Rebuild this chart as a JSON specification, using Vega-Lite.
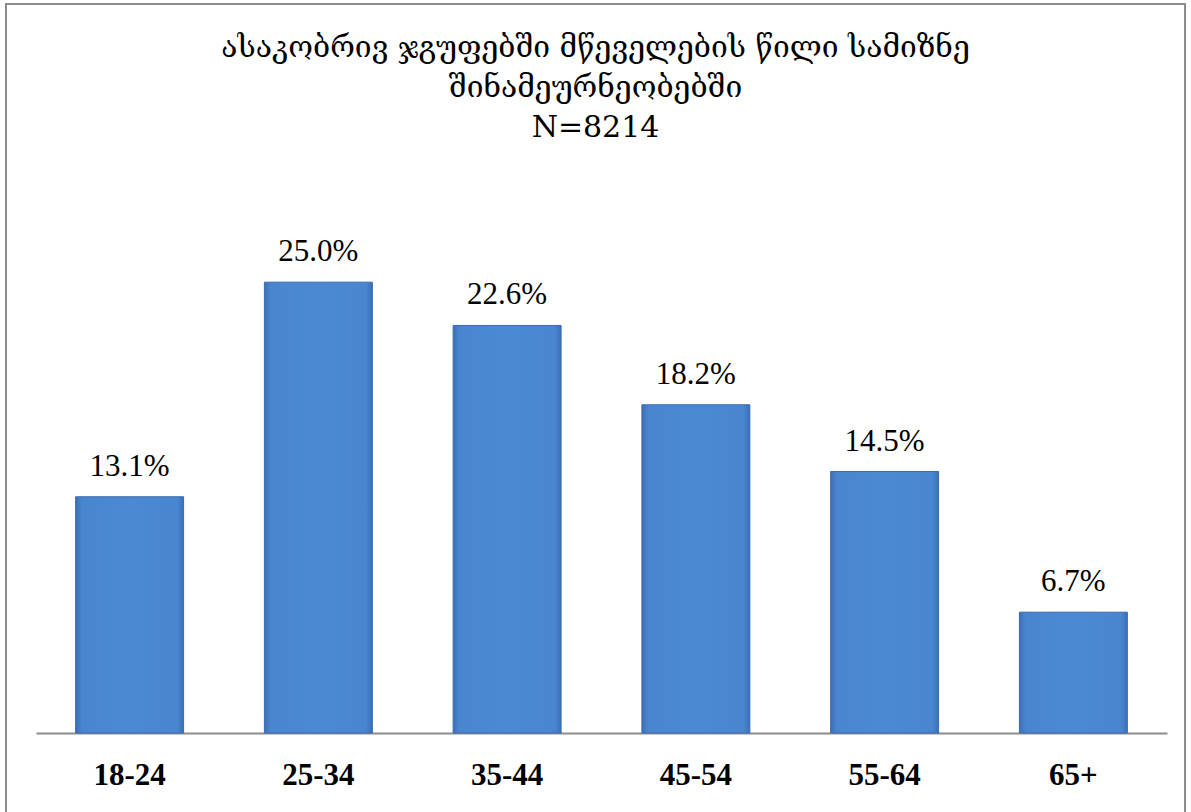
{
  "$schema": "https://vega.github.io/schema/vega-lite/v6.json",
  "width": 1179,
  "height": 812,
  "autosize": "none",
  "padding": {"left": 6, "top": 4, "right": 6, "bottom": 0},
  "background": "white",
  "title": {
    "text": ["ასაკობრივ ჯგუფებში მწეველების წილი სამიზნე", "შინამეურნეობებში", "N=8214"],
    "anchor": "middle",
    "orient": "top",
    "offset": -139,
    "font": "DejaVu Serif",
    "fontSize": 30,
    "fontWeight": "normal",
    "lineHeight": 40,
    "color": "black"
  },
  "config": {
    "view": {"stroke": "#8c8c8c", "strokeWidth": 2}
  },
  "data": {
    "values": [
      {"age": "18-24", "pct": 0.131},
      {"age": "25-34", "pct": 0.250},
      {"age": "35-44", "pct": 0.226},
      {"age": "45-54", "pct": 0.182},
      {"age": "55-64", "pct": 0.145},
      {"age": "65+", "pct": 0.067}
    ]
  },
  "encoding": {
    "x": {
      "field": "age",
      "type": "nominal",
      "sort": null,
      "scale": {"range": [30, 1161], "paddingInner": 0.428, "paddingOuter": 0.21},
      "axis": {
        "title": null,
        "labelAngle": 0,
        "offset": -83,
        "domainColor": "#8c8c8c",
        "domainWidth": 2,
        "ticks": false,
        "labelPadding": 27,
        "labelFont": "Liberation Serif",
        "labelFontWeight": "bold",
        "labelFontSize": 31,
        "labelColor": "black",
        "grid": false
      }
    },
    "y": {
      "field": "pct",
      "type": "quantitative",
      "scale": {"domain": [0, 0.30], "range": [729, 188], "nice": false, "zero": true},
      "axis": null
    }
  },
  "layer": [
    {
      "mark": {
        "type": "bar",
        "stroke": "#3a6aae",
        "strokeWidth": 1,
        "color": {
          "gradient": "linear",
          "x1": 0, "y1": 0, "x2": 1, "y2": 0,
          "stops": [
            {"offset": 0, "color": "#3b70b8"},
            {"offset": 0.06, "color": "#4a86d0"},
            {"offset": 0.5, "color": "#4c89d3"},
            {"offset": 0.94, "color": "#4a86d0"},
            {"offset": 1, "color": "#3b70b8"}
          ]
        }
      }
    },
    {
      "mark": {
        "type": "text",
        "baseline": "alphabetic",
        "dy": -21,
        "font": "Liberation Serif",
        "fontSize": 31,
        "color": "black"
      },
      "encoding": {
        "text": {"field": "pct", "type": "quantitative", "format": ".1%"}
      }
    }
  ]
}
